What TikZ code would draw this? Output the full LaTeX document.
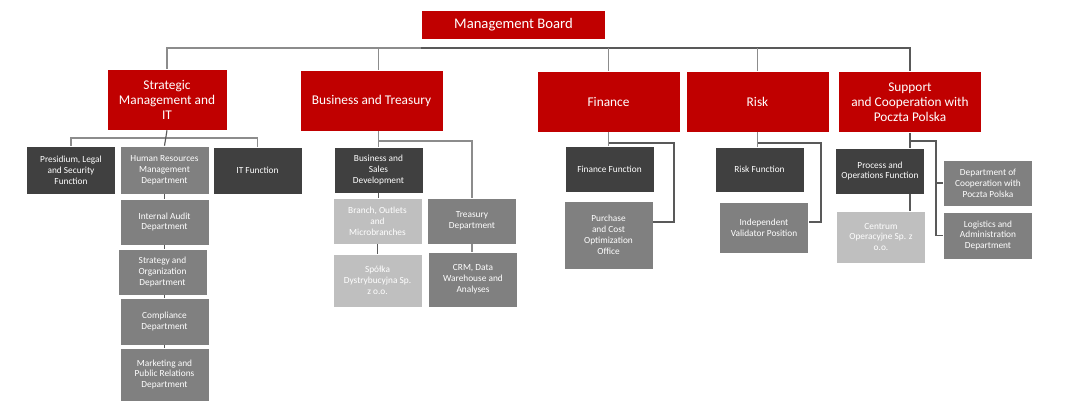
\documentclass[tikz,border=0pt]{standalone}
\usepackage{fontspec}
\setmainfont{Carlito}
\usetikzlibrary{positioning}
\definecolor{boardred}{HTML}{C00000}
\definecolor{darkfill}{HTML}{404040}
\definecolor{midfill}{HTML}{808080}
\definecolor{lightfill}{HTML}{BFBFBF}
\definecolor{linegray}{HTML}{8C8C8C}
\definecolor{linedark}{HTML}{595959}

\begin{document}
\begin{tikzpicture}[x=0.75pt,y=-0.75pt]%
            \useasboundingbox (0,0) rectangle (1071,420); %%
            \tikzstyle{conn}=[draw=linegray,line width=.85pt] %%
            \begin{scope}[text=white,align=center,inner sep=0pt,draw=white,line width=.4pt]%
            \tikzstyle{every node}=[draw] %%
            \tikzstyle{head}=[fill=boardred,minimum width=107.25pt,minimum height=45.75pt,font=\fontsize{10}{11.3}\selectfont] %%
            \tikzstyle{unitbox}=[minimum width=67pt,minimum height=34.5pt,font=\fontsize{7}{8.2}\selectfont] %%
            \tikzstyle{darkunit}=[unitbox,fill=darkfill] %%
            \tikzstyle{midunit}=[unitbox,fill=midfill] %%
            \tikzstyle{lightunit}=[unitbox,fill=lightfill] %%
            \node[head,font=\fontsize{11}{13}\selectfont,minimum width=138pt,minimum height=21.75pt] (board) at (513.5,24.5) {Management Board}; %%
            \node[head,minimum width=90pt] (strat) at (167,99.5) {Strategic\\Management and\\IT}; %%
            \node[head] (biz) at (371.5,100.5) {Business and Treasury}; %%
            \node[head] (fin) at (608.5,101.5) {Finance}; %%
            \node[head] (risk) at (757.5,101.5) {Risk}; %%
            \node[head] (supp) at (910,102) {Support\\and Cooperation with\\Poczta Polska}; %%
            \node[darkunit,minimum height=36pt] (pres) at (71,170) {Presidium, Legal\\and Security\\Function}; %%
            \node[midunit,minimum height=36pt] (hr) at (164.5,170) {Human Resources\\Management\\Department}; %%
            \node[darkunit,minimum height=35.25pt] (itf) at (257.5,170.5) {IT Function}; %%
            \node[midunit] (audit) at (164.5,222) {Internal Audit\\Department}; %%
            \node[midunit] (strorg) at (162.5,272) {Strategy and\\Organization\\Department}; %%
            \node[midunit,minimum height=35.25pt] (compl) at (164.5,321.5) {Compliance\\Department}; %%
            \node[midunit,minimum height=39.75pt] (mkt) at (164.5,374.5) {Marketing and\\Public Relations\\Department}; %%
            \node[darkunit] (bsd) at (378.5,170) {Business and\\Sales\\Development}; %%
            \node[lightunit] (branch) at (377.5,221) {Branch, Outlets\\and\\Microbranches}; %%
            \node[lightunit,minimum height=39.75pt] (spolka) at (377.5,280.5) {Spółka\\Dystrybucyjna Sp.\\z o.o.}; %%
            \node[midunit] (treas) at (472,221) {Treasury\\Department}; %%
            \node[midunit,minimum height=41.25pt] (crm) at (473,279.5) {CRM, Data\\Warehouse and\\Analyses}; %%
            \node[darkunit] (ffun) at (609.5,169) {Finance Function}; %%
            \node[midunit,minimum height=51pt] (purch) at (608.5,235) {Purchase\\and Cost\\Optimization\\Office}; %%
            \node[darkunit,minimum height=33.75pt] (rfun) at (759.5,169.5) {Risk Function}; %%
            \node[midunit,minimum height=38.25pt] (indep) at (764,227.5) {Independent\\Validator Position}; %%
            \node[darkunit] (proc) at (880,171) {Process and\\Operations Function}; %%
            \node[lightunit,minimum height=39pt] (centrum) at (881,237) {Centrum\\Operacyjne Sp. z\\o.o.}; %%
            \node[midunit] (coop) at (988,183) {Department of\\Cooperation with\\Poczta Polska}; %%
            \node[midunit,minimum height=35.25pt] (logi) at (988,235.5) {Logistics and\\Administration\\Department}; %%
            \end{scope}
            \coordinate (topbus) at (0,48); %%
            \coordinate (sbus) at (0,138); %%
            \coordinate (bbus) at (0,141); %%
            \coordinate (fbus) at (0,143); %%
            \coordinate (fcorner) at (674,222); %%
            \coordinate (rcorner) at (821,222); %%
            \coordinate (scorner) at (936,141); %%
            \draw[conn] (strat.north) |- (board.south west |- topbus); %%
            \draw[conn,draw=linedark] (board.south west |- topbus) -| (supp.north); %%
            \draw[conn] (bsd.north |- biz.north) -- (bsd.north |- topbus); %%
            \draw[conn] (fin.north) -- (fin.north |- topbus); %%
            \draw[conn] (risk.north) -- (risk.north |- topbus); %%
            \draw[conn] (pres.north) |- (strat.south |- sbus) -| (itf.north); %%
            \draw[conn,draw=linedark] (strat.south) -- (hr.north); %%
            \draw[conn,draw=linedark] (hr.south) -- (audit.north); %%
            \draw[conn,draw=linedark] (audit.south) -- (audit.south |- strorg.north); %%
            \draw[conn,draw=linedark] (compl.north) -- (compl.north |- strorg.south); %%
            \draw[conn,draw=linedark] (compl.south) -- (mkt.north); %%
            \draw[conn] (bsd.north |- biz.south) -- (bsd.north); %%
            \draw[conn] (bsd.north |- bbus) -| (treas.north); %%
            \draw[conn,draw=linedark] (bsd.south) -- (bsd.south |- branch.north); %%
            \draw[conn,draw=linedark] (branch.south) -- (spolka.north); %%
            \draw[conn] (treas.south) -- (treas.south |- crm.north); %%
            \draw[conn] (fin.south) -- (fin.south |- ffun.north); %%
            \draw[conn,draw=linedark] (fin.south |- fbus) -| (fcorner) -- (fcorner -| purch.east); %%
            \draw[conn] (risk.south) -- (risk.south |- rfun.north); %%
            \draw[conn,draw=linedark] (risk.south |- fbus) -| (rcorner) -- (rcorner -| indep.east); %%
            \draw[conn,draw=linedark] (supp.south) -- (supp.south |- proc.north); %%
            \draw[conn,draw=linedark] (supp.south |- scorner) -- (scorner) |- (logi.west); %%
            \draw[conn,draw=linedark] (scorner |- coop.west) -- (coop.west); %%
            \draw[conn,draw=linedark] (supp.south |- proc.south) -- (supp.south |- centrum.north); %%
        \end{tikzpicture}
\end{document}
